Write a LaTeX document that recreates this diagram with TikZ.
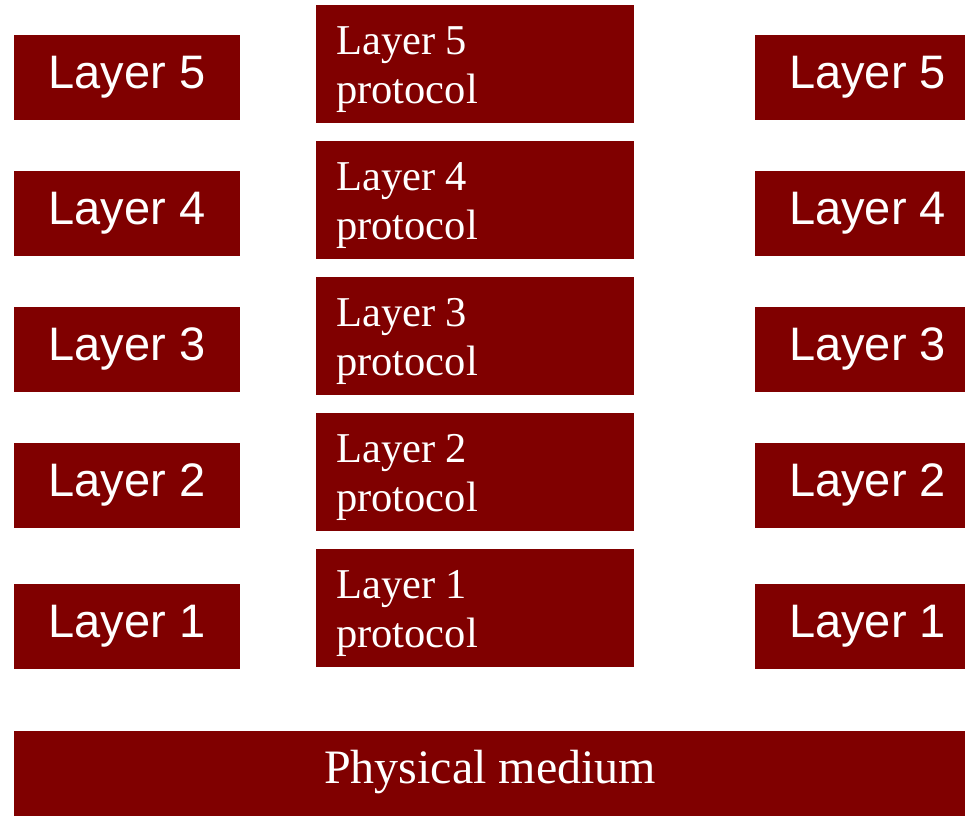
\documentclass[tikz,border=0pt]{standalone}
\usepackage{fontspec}
\usetikzlibrary{calc}
\setmainfont{Liberation Serif}
\newfontfamily\arialfont{Liberation Sans}
\definecolor{boxred}{HTML}{800000}
\tikzset{
  redbox/.style={fill=boxred, draw=none, inner sep=0pt, outer sep=0pt, text=white},
  sidebox/.style={redbox, minimum width=226pt, minimum height=85pt,
    font=\arialfont\fontsize{47}{56}\selectfont, text height=34pt, text depth=13pt},
  protobox/.style={redbox, minimum width=318pt, minimum height=118pt},
  prototext/.style={text=white, inner sep=0pt, anchor=base west, align=left,
    font=\fontsize{42.5}{49}\selectfont},
  medbox/.style={redbox, minimum width=952pt, minimum height=85pt,
    font=\fontsize{48}{56}\selectfont, text height=32pt, text depth=13pt}
}
\begin{document}
\begin{tikzpicture}[x=1pt,y=-1pt]
\useasboundingbox (0,0) rectangle (965,816);
% left stack
\node[sidebox] (l5) at (127,77.5) {Layer 5};
\node[sidebox] (l4) at (127,213.5) {Layer 4};
\node[sidebox] (l3) at (127,349.5) {Layer 3};
\node[sidebox] (l2) at (127,485.5) {Layer 2};
\node[sidebox] (l1) at (127,626.5) {Layer 1};
% right stack
\node[sidebox] (r5) at (867.5,77.5) {Layer 5};
\node[sidebox] (r4) at (867.5,213.5) {Layer 4};
\node[sidebox] (r3) at (867.5,349.5) {Layer 3};
\node[sidebox] (r2) at (867.5,485.5) {Layer 2};
\node[sidebox] (r1) at (867.5,626.5) {Layer 1};
% protocol boxes
\foreach \n/\y in {5/64,4/200,3/336,2/472,1/608}{
  \node[protobox] (p\n) at (475,\y) {};
}
% protocol texts
\foreach \n in {5,4,3,2,1}{
  \node[prototext] (pt\n) at ($(p\n.north west)+(20,98)$) {Layer \n\\protocol};
}
% physical medium
\node[medbox] (pm) at (490,773.5) {Physical medium};
\end{tikzpicture}
\end{document}
